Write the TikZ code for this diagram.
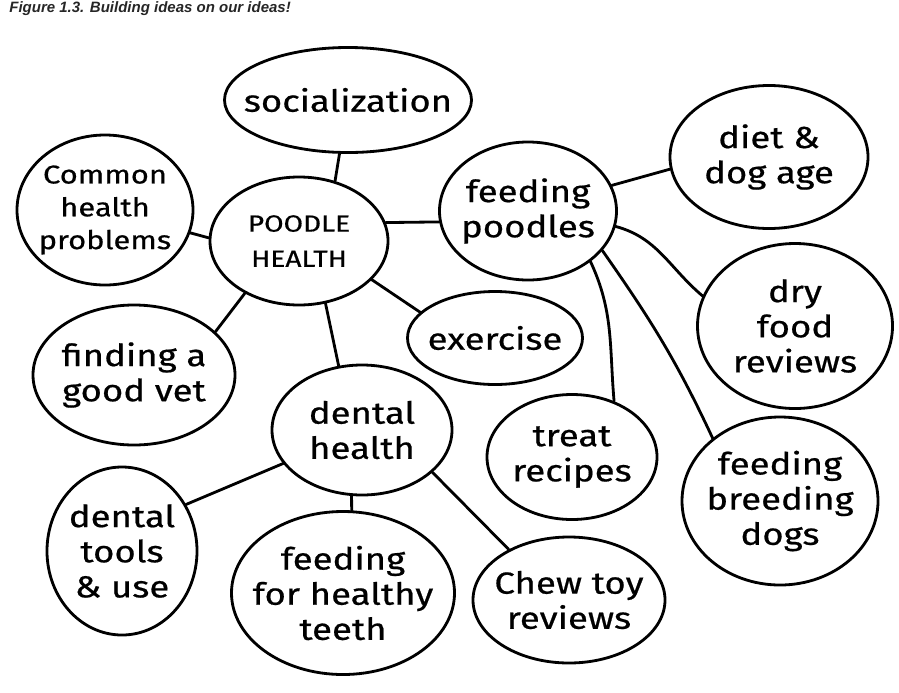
\documentclass[tikz,border=0pt]{standalone}
\usepackage{fontspec}
\setmainfont{Fira Sans}[FakeStretch=1.2, FakeBold=0.6]
\newfontfamily\capfont{Liberation Sans}
\usetikzlibrary{shapes.geometric}
\begin{document}
\begin{tikzpicture}[x=0.03cm, y=-0.03cm, line width=2.4pt, line cap=round,
  blob/.style={draw, ellipse, inner sep=-25pt, align=center, font=\fontsize{26}{30}\selectfont}]
  \useasboundingbox (0,0) rectangle (899,692);
  \node[anchor=west, inner sep=0pt, text=black!85, font=\capfont\bfseries\itshape\fontsize{12.8}{14}\selectfont] (caption) at (8,9) {Figure 1.3. Building ideas on our ideas!};
  \node[blob, minimum width=7.41cm, minimum height=3.15cm] (social) at (348,100) {socialization};
  \node[blob, minimum width=5.28cm, minimum height=4.5cm, font=\fontsize{22}{28}\selectfont] (common) at (105,210) {Common\\health\\problems};
  \node[blob, minimum width=5.34cm, minimum height=3.84cm, font=\fontsize{20}{30}\selectfont] (poodle) at (299,241) {POODLE\\HEALTH};
  \node[blob, minimum width=5.31cm, minimum height=4.14cm] (feeding) at (528,211) {feeding\\poodles};
  \node[blob, minimum width=5.94cm, minimum height=4.29cm] (diet) at (769,157) {diet \&\\dog age};
  \node[blob, minimum width=5.85cm, minimum height=4.95cm] (dry) at (795,326) {dry\\food\\reviews};
  \node[blob, minimum width=5.25cm, minimum height=2.79cm] (exercise) at (495,338) {exercise};
  \node[blob, minimum width=6.06cm, minimum height=4.2cm] (vet) at (134,375) {finding a\\good vet};
  \node[blob, minimum width=5.4cm, minimum height=3.9cm] (dental) at (362,430) {dental\\health};
  \node[blob, minimum width=5.1cm, minimum height=3.75cm] (treat) at (572,457) {treat\\recipes};
  \node[blob, minimum width=5.88cm, minimum height=5.04cm] (breeding) at (780,501) {feeding\\breeding\\dogs};
  \node[blob, minimum width=4.5cm, minimum height=5.04cm] (tools) at (122,551) {dental\\tools\\\& use};
  \node[blob, minimum width=6.69cm, minimum height=4.89cm] (teeth) at (343,593) {feeding\\for healthy\\teeth};
  \node[blob, minimum width=5.76cm, minimum height=3.78cm] (chew) at (569,600) {Chew toy\\reviews};
  % links from the centre
  \draw (social.-99) -- (poodle.59);
  \draw (common.-15) -- (poodle.178);
  \draw (poodle.12) -- (feeding.-173);
  \draw (poodle.-28) -- (exercise.161);
  \draw (poodle.-136) -- (vet.28);
  \draw (poodle.-67) -- (dental.110);
  % feeding branch
  \draw (feeding.17) -- (diet.-173);
  \draw (feeding.-10) to[out=-15, in=140] (dry.162);
  \draw (feeding.-39) to[out=-65, in=95] (treat.53);
  \draw (feeding.-28) to[out=-55, in=115] (breeding.137);
  % dental branch
  \draw (dental.-157) -- (tools.36);
  \draw (dental.-99) -- (teeth.84);
  \draw (dental.-31) -- (chew.140);
\end{tikzpicture}
\end{document}
